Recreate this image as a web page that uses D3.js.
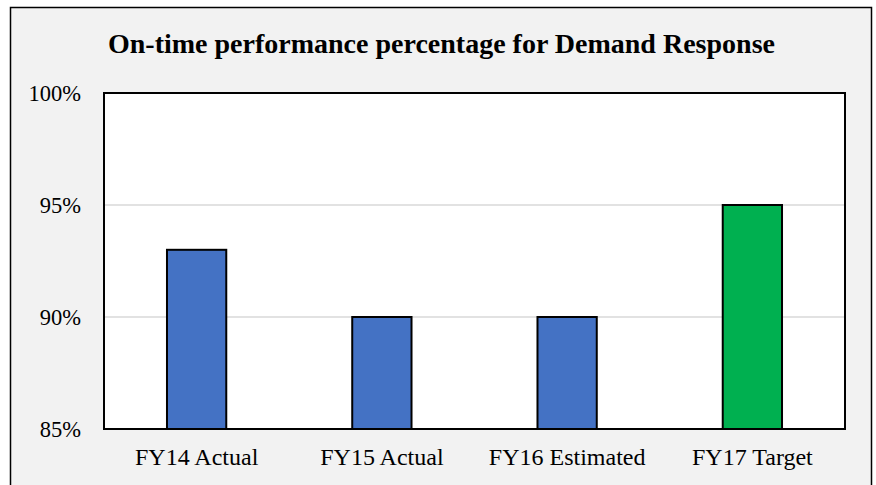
<!DOCTYPE html>
<html>
<head>
<meta charset="utf-8">
<script src="https://cdn.jsdelivr.net/npm/d3@7"></script>
<style>
  body { margin: 0; background: #fff; }
  text { font-family: "Liberation Serif", "Times New Roman", serif; fill: #000; }
</style>
</head>
<body>
<div id="chart"></div>
<script>
var categories = ['FY14 Actual', 'FY15 Actual', 'FY16 Estimated', 'FY17 Target'];
var values = [93, 90, 90, 95];
var barColors = ['#4472C4', '#4472C4', '#4472C4', '#00B050'];
var yTicks = [85, 90, 95, 100];
var title = 'On-time performance percentage for Demand Response';

var W = 876, H = 485;
var plot = { left: 104, top: 93, right: 845, bottom: 429 };

var svg = d3.select('#chart').append('svg')
    .attr('width', W)
    .attr('height', H);

// chart area background + border
svg.append('rect')
    .attr('x', 10.5).attr('y', 7.5)
    .attr('width', 861).attr('height', 490)
    .attr('fill', '#F2F2F2')
    .attr('stroke', '#000')
    .attr('stroke-width', 1.5);

var x = d3.scaleBand()
    .domain(categories)
    .range([plot.left, plot.right])
    .paddingInner(0.68)
    .paddingOuter(0.34);

var y = d3.scaleLinear()
    .domain([85, 100])
    .range([plot.bottom, plot.top]);

// plot area
svg.append('rect')
    .attr('x', plot.left).attr('y', plot.top)
    .attr('width', plot.right - plot.left)
    .attr('height', plot.bottom - plot.top)
    .attr('fill', '#fff');

// gridlines
svg.append('g')
    .selectAll('line')
    .data(yTicks.filter(function(d) { return d > 85 && d < 100; }))
    .enter()
    .append('line')
    .attr('x1', plot.left).attr('x2', plot.right)
    .attr('y1', function(d) { return y(d); })
    .attr('y2', function(d) { return y(d); })
    .attr('stroke', '#D9D9D9')
    .attr('stroke-width', 1.3);

// bars
svg.append('g')
    .selectAll('rect')
    .data(values)
    .enter()
    .append('rect')
    .attr('x', function(d, i) { return x(categories[i]); })
    .attr('y', function(d) { return y(d); })
    .attr('width', x.bandwidth())
    .attr('height', function(d) { return y(85) - y(d); })
    .attr('fill', function(d, i) { return barColors[i]; })
    .attr('stroke', '#000')
    .attr('stroke-width', 2);

// plot border
svg.append('rect')
    .attr('x', plot.left).attr('y', plot.top)
    .attr('width', plot.right - plot.left)
    .attr('height', plot.bottom - plot.top)
    .attr('fill', 'none')
    .attr('stroke', '#000')
    .attr('stroke-width', 2);

// y axis
var yAxis = svg.append('g')
    .attr('transform', 'translate(' + plot.left + ',0)')
    .call(d3.axisLeft(y).tickValues(yTicks).tickSize(0).tickPadding(23)
        .tickFormat(function(d) { return d + '%'; }));
yAxis.select('.domain').remove();
yAxis.selectAll('text')
    .style('font-size', '22.5px')
    .style('font-family', '"Liberation Serif", serif')
    .attr('fill', '#000');

// x axis
var xAxis = svg.append('g')
    .attr('transform', 'translate(0,' + plot.bottom + ')')
    .call(d3.axisBottom(x).tickSize(0).tickPadding(19));
xAxis.select('.domain').remove();
xAxis.selectAll('text')
    .style('font-size', '24px')
    .style('font-family', '"Liberation Serif", serif')
    .attr('fill', '#000');

// title
var t = svg.append('text')
    .attr('x', (108 + 775) / 2)
    .attr('y', 53)
    .attr('text-anchor', 'middle')
    .style('font-weight', 'bold')
    .style('font-size', '26px')
    .text(title);
var len = t.node().getComputedTextLength();
t.style('font-size', (26 * 667 / len) + 'px');
</script>
</body>
</html>
